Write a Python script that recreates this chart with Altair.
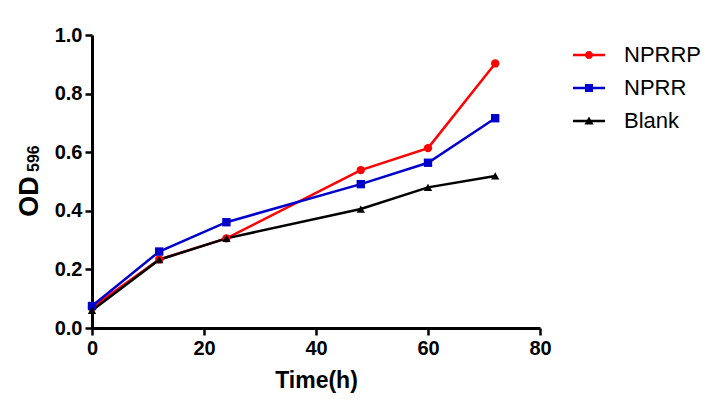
import altair as alt
import pandas as pd

# ---- data ----
time_h = [0, 12, 24, 48, 60, 72]
series_names = ["NPRRP", "NPRR", "Blank"]
nprrp = [0.070, 0.234, 0.306, 0.539, 0.614, 0.903]
nprr = [0.075, 0.261, 0.361, 0.491, 0.564, 0.716]
blank = [0.060, 0.233, 0.306, 0.406, 0.480, 0.519]
x_ticks = [0, 20, 40, 60, 80]
y_ticks = [0.0, 0.2, 0.4, 0.6, 0.8, 1.0]
y_title_main = "OD"
y_title_sub = "596"

# ---- styles ----
colors = ["#ff0000", "#0000cc", "#000000"]
marker_shapes = ["circle", "square", "triangle-up"]
bar = "M-4,-0.3H4V0.3H-4Z"
legend_shapes = [
    bar + "M-1,0A1,1 0 1,1 1,0A1,1 0 1,1 -1,0Z",
    bar + "M-1,-1H1V1H-1Z",
    bar + "M0,-1.15L1.15,0.85H-1.15Z",
]
FONT = "Liberation Sans"

rows = []
for name, vals in zip(series_names, [nprrp, nprr, blank]):
    for t, v in zip(time_h, vals):
        rows.append({"time": t, "od": v, "series": name})
df = pd.DataFrame(rows)

x = alt.X(
    "time:Q",
    scale=alt.Scale(domain=[0, 80], nice=False, zero=False),
    axis=alt.Axis(values=x_ticks, title="Time(h)", titlePadding=11, labelPadding=3),
)
y = alt.Y(
    "od:Q",
    scale=alt.Scale(domain=[0, 1], nice=False),
    axis=alt.Axis(values=y_ticks, format=".1f", title=y_title_main,
                  labelPadding=3, titleFontSize=27, titleX=-55, titleY=161,
                  titleBaseline="alphabetic", titleAngle=270),
)
color_plain = alt.Color("series:N", scale=alt.Scale(domain=series_names, range=colors), legend=None)

lines = alt.Chart(df).mark_line(strokeWidth=2.5).encode(x=x, y=y, color=color_plain)

points = alt.Chart(df).mark_point(filled=True, size=70, opacity=1).encode(
    x=x, y=y, color=color_plain,
    shape=alt.Shape("series:N", scale=alt.Scale(domain=series_names, range=marker_shapes), legend=None),
)

leg = alt.Legend(
    title=None, orient="none", legendX=486, legendY=9, labelFontSize=22, labelFont=FONT,
    labelColor="black", symbolSize=64, symbolOpacity=1, labelOffset=24, rowPadding=11,
    padding=0, symbolStrokeWidth=0, labelLimit=200,
)
dummy = alt.Chart(df).mark_point(filled=True, opacity=0).encode(
    x=x, y=y,
    color=alt.Color("series:N", scale=alt.Scale(domain=series_names, range=colors), legend=leg),
    shape=alt.Shape("series:N", scale=alt.Scale(domain=series_names, range=legend_shapes), legend=leg),
)

sub = alt.Chart(pd.DataFrame({"t": [y_title_sub]})).mark_text(
    font=FONT, fontSize=16, fontWeight="bold", angle=270, align="left",
    baseline="alphabetic", color="black",
).encode(text="t:N", x=alt.value(-53), y=alt.value(137))

chart = (
    alt.layer(lines, points, dummy, sub)
    .resolve_scale(color="independent", shape="independent")
    .properties(width=448, height=293, autosize="none",
                padding={"left": 84, "top": 27, "right": 171, "bottom": 70})
    .configure_view(stroke=None)
    .configure_axis(
        grid=False, domainColor="black", domainWidth=3, tickColor="black", tickWidth=2.5,
        tickSize=7, labelFont=FONT, labelFontSize=20, labelFontWeight="bold", labelColor="black",
        labelFlush=False,
        titleFont=FONT, titleFontSize=23, titleFontWeight="bold", titleColor="black",
    )
)

chart.save("out.html", embed_options={"renderer": "svg", "actions": False})
